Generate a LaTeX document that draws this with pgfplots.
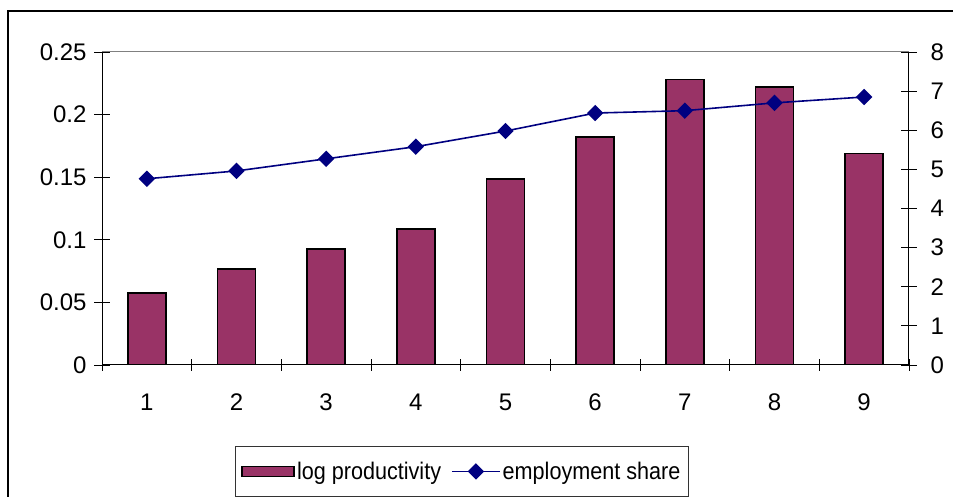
\documentclass[border=0pt]{standalone}
\usepackage{pgfplots}
\pgfplotsset{compat=1.18}
\usepackage{fontspec}
\setmainfont{Liberation Sans}
\newfontfamily\legfont[FakeStretch=0.9]{Liberation Sans}
\definecolor{barcol}{HTML}{993366}
\definecolor{linecol}{HTML}{000080}
\pgfplotsset{
  mylegline/.style={legend image code/.code={\draw[mark repeat=2,mark phase=2,##1] plot coordinates {(0pt,0pt)(24pt,0pt)(48pt,0pt)};}},
  mylegbar/.style={legend image code/.code={\draw[fill=barcol,draw=black,line width=1.6pt] (0pt,-5pt) rectangle (52pt,5pt);}},
}
\begin{document}
\begin{tikzpicture}
\path[use as bounding box] (0pt,0pt) rectangle (953pt,497pt);
\draw[line width=2pt] (8pt,-5pt) -- (8pt,486pt) -- (960pt,486pt);
\begin{axis}[
  at={(102pt,132pt)}, anchor=south west,
  scale only axis, width=807pt, height=313pt,
  xmin=0.5, xmax=9.5, ymin=0, ymax=0.25,
  axis x line*=bottom, axis y line*=left,
  axis line style={black, line width=1pt, -},
  xtick={1,...,9}, xticklabels={1,2,3,4,5,6,7,8,9},
  major x tick style={draw=none},
  minor xtick={0.5,1.5,...,9.5},
  ytick={0,0.05,0.1,0.15,0.2,0.25},
  yticklabels={0,0.05,0.1,0.15,0.2,0.25},
  tick align=center, major tick length=16pt, minor tick length=12pt,
  tick style={black, line width=0.8pt},
  ticklabel style={font=\fontsize{24}{26}\selectfont},
  /pgf/number format/assume math mode=true,
  yticklabel style={xshift=-4pt},
  xticklabel style={yshift=-17pt},
]
\addplot[ybar, bar width=38pt, fill=barcol, draw=black, line width=1.6pt] coordinates {
(1,0.0575) (2,0.0767) (3,0.0927) (4,0.1086) (5,0.1486) (6,0.182) (7,0.228) (8,0.222) (9,0.169)
};
\end{axis}
\begin{axis}[
  at={(102pt,132pt)}, anchor=south west,
  scale only axis, width=807pt, height=313pt,
  xmin=0.5, xmax=9.5, ymin=0, ymax=8,
  axis x line=none, axis y line*=right,
  axis line style={black, line width=1pt, -},
  ytick={0,1,2,3,4,5,6,7,8},
  yticklabels={0,1,2,3,4,5,6,7,8},
  tick align=center, major tick length=16pt,
  tick style={black, line width=0.8pt},
  ticklabel style={font=\fontsize{24}{26}\selectfont},
  /pgf/number format/assume math mode=true,
  yticklabel style={xshift=10pt},
  legend columns=2,
  legend style={at={(0.446,-0.340)}, anchor=center, draw=black!80, line width=0.8pt,
    font=\legfont\fontsize{24}{26}\selectfont, inner xsep=6pt, inner ysep=14pt,
    /tikz/every even column/.append style={column sep=8pt}},
]
\addlegendimage{mylegbar}
\addlegendentry{log productivity}
\addplot[linecol, line width=1.6pt, mark=square*, mark size=5pt, mark options={rotate=45, solid}, mylegline]
coordinates {
(1,4.76) (2,4.96) (3,5.27) (4,5.58) (5,5.98) (6,6.44) (7,6.50) (8,6.70) (9,6.85)
};
\addlegendentry{employment share}
\end{axis}
\draw[gray, line width=1pt] (102pt,445pt) -- (909pt,445pt);
\end{tikzpicture}
\end{document}
